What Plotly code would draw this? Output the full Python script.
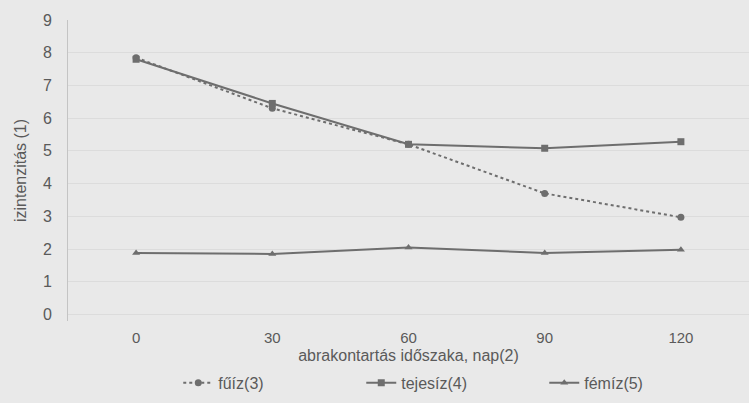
import plotly.graph_objects as go

days = ["0", "30", "60", "90", "120"]
fuiz = [7.85, 6.3, 5.2, 3.7, 2.97]
tejesiz = [7.8, 6.45, 5.2, 5.08, 5.28]
femiz = [1.88, 1.85, 2.05, 1.88, 1.98]
y_ticks = [0, 1, 2, 3, 4, 5, 6, 7, 8, 9]

line_col = "#6e6e6e"
text_col = "#5a5a5a"
bg = "#e9e9e9"

fig = go.Figure()
fig.add_trace(go.Scatter(x=days, y=fuiz, name="fűíz(3)", mode="lines+markers",
                         line=dict(color=line_col, width=2, dash="dot"),
                         marker=dict(symbol="circle", size=7, color=line_col)))
fig.add_trace(go.Scatter(x=days, y=tejesiz, name="tejesíz(4)", mode="lines+markers",
                         line=dict(color=line_col, width=2),
                         marker=dict(symbol="square", size=7, color=line_col)))
fig.add_trace(go.Scatter(x=days, y=femiz, name="fémíz(5)", mode="lines+markers",
                         line=dict(color=line_col, width=2),
                         marker=dict(symbol="triangle-up", size=7, color=line_col)))

fig.update_layout(
    width=749, height=403,
    margin=dict(l=68, r=0, t=20, b=82, autoexpand=False),
    paper_bgcolor=bg, plot_bgcolor=bg,
    font=dict(family="Liberation Sans, Arial, sans-serif", size=16, color=text_col),
    showlegend=True,
    legend=dict(orientation="h", x=0.565, xanchor="center", xref="paper",
                y=0.05, yanchor="middle", yref="container",
                font=dict(size=16, color=text_col), bgcolor="rgba(0,0,0,0)",
                entrywidth=138, entrywidthmode="pixels"),
)
fig.update_xaxes(type="category", range=[-0.5, 4.5], showgrid=False, zeroline=False,
                 showline=False, ticks="", ticklabelstandoff=6, automargin=False,
                 tickfont=dict(size=15),
                 title=dict(text="abrakontartás időszaka, nap(2)", standoff=4,
                            font=dict(size=16, color=text_col)))
fig.update_yaxes(range=[-0.2, 9], tickvals=y_ticks, showgrid=True, automargin=False,
                 gridcolor="#dcdcdc", gridwidth=1, zeroline=False,
                 showline=True, linecolor="#c4c4c4", linewidth=1, ticks="",
                 ticklabelstandoff=12, tickfont=dict(size=16),
                 title=dict(text="izintenzitás (1)", standoff=12,
                            font=dict(size=16, color=text_col)))

fig.write_html("out.html")
